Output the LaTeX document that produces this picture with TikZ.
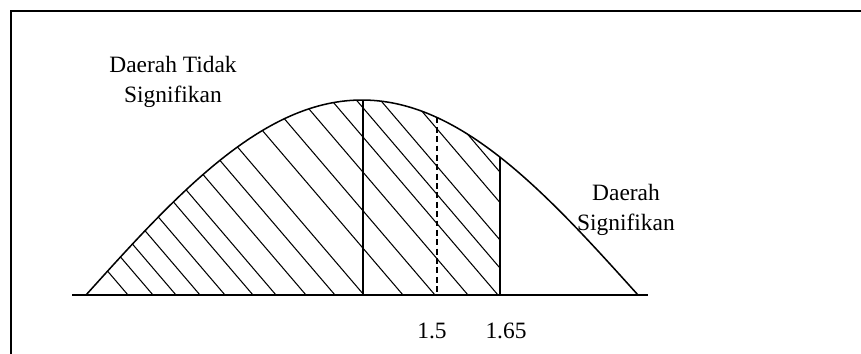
\documentclass[tikz,border=0pt]{standalone}
\usepackage{fontspec}
\setmainfont{Liberation Serif}
\usetikzlibrary{positioning}
\newcommand{\bell}[1]{295-195*sin(((#1)-86)*0.326087)}

\begin{document}
\begin{tikzpicture}[x=0.03cm, y=-0.03cm,
    kurva/.style={line width=1.3pt},
    arsir/.style={line width=0.9pt},
    batas/.style={line width=1.2pt},
    sumbu/.style={line width=1.8pt},
    teks/.style={font=\fontsize{20}{25.5}\selectfont, inner sep=0pt, align=center}]
  \useasboundingbox (0,0) rectangle (861,353);
  \clip (0,0) rectangle (861,353);
  \draw[line width=1.6pt] (11,370) |- (880,11);
  \coordinate (kiri) at (72,295);
  \coordinate (kanan) at (648,295);
  \coordinate (nol) at (363,{\bell{363}});
  \coordinate (z15) at (437,{\bell{437}});
  \coordinate (z165) at (500,{\bell{500}});
  \begin{scope}
    \clip (86,295) -- plot[domain=86:500, samples=80] (\x, {\bell{\x}}) -- (500,295) -- cycle;
    \foreach \p in {128,153,176,200,225,253,276,306,335,364,403,435,468,498,523,547,579,605}
      \draw[arsir] (\p,295) -- ++(-300,-351);
  \end{scope}
  \draw[kurva] plot[domain=86:638, samples=120] (\x, {\bell{\x}});
  \draw[sumbu] (kiri) -- (kanan);
  \draw[batas] (nol) -- (nol |- kiri);
  \draw[batas, dash pattern=on 5pt off 3pt] (z15) -- (z15 |- kiri);
  \draw[batas] (z165) -- (z165 |- kiri);
  \node[teks, anchor=north] (tidak) at (173,56) {Daerah Tidak\\Signifikan};
  \node[teks, anchor=north] (sig) at (626,184) {Daerah\\Signifikan};
  \begin{scope}
    \clip (0,0) rectangle (861,338);
    \node[teks, anchor=base] (n15) at (432,338.7) {1.5};
    \node[teks, anchor=base] (n165) at (506,338.7) {1.65};
  \end{scope}
\end{tikzpicture}
\end{document}
